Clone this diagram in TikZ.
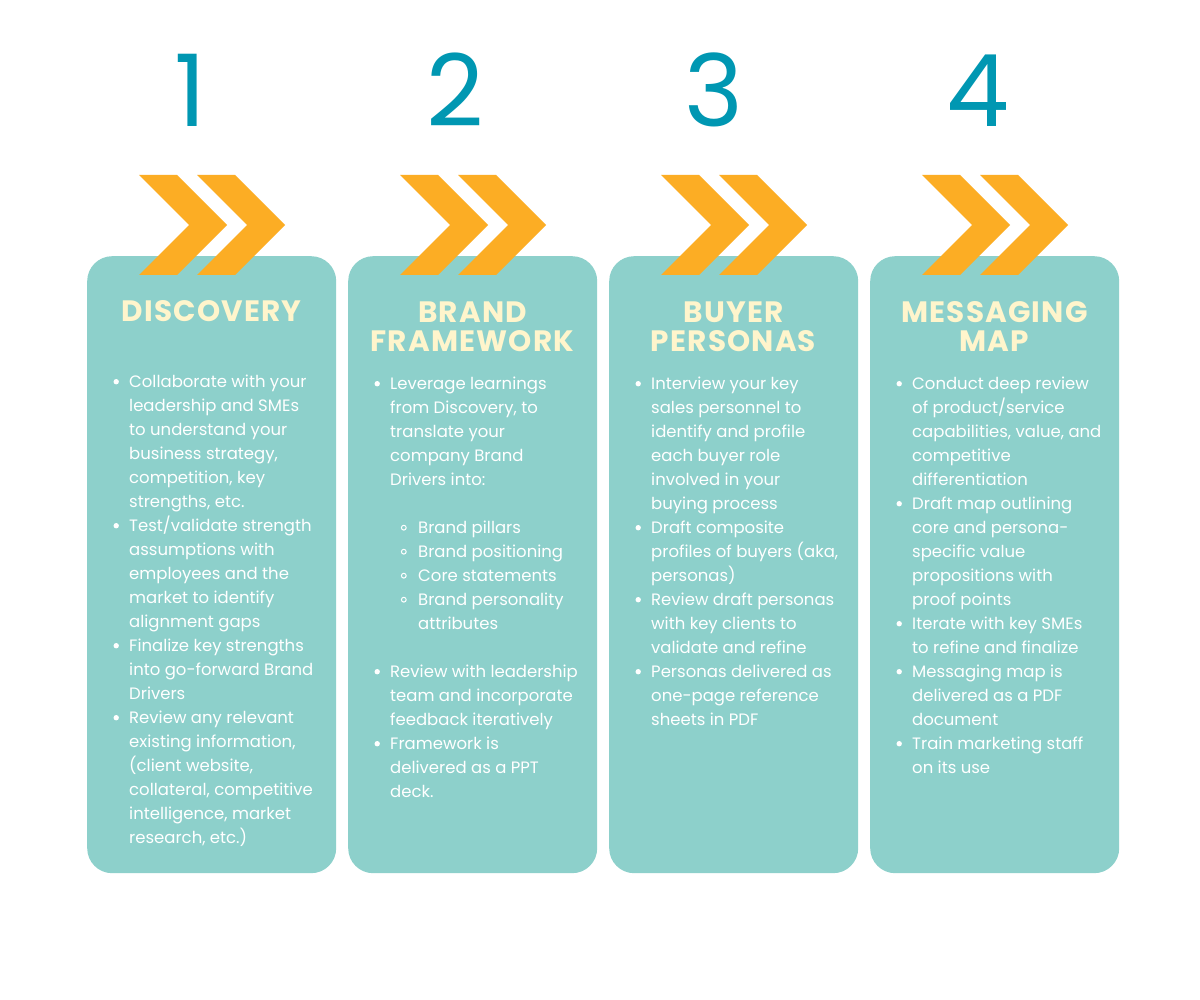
\documentclass[tikz,border=0pt]{standalone}
\usepackage{fontspec}
\setmainfont{Poppins}
\newfontfamily\titlefont{Poppins}[LetterSpace=4]
\definecolor{boxcol}{HTML}{8DD0CB}
\definecolor{chevcol}{HTML}{FCAD24}
\definecolor{numcol}{HTML}{0097B2}
\definecolor{titlecol}{HTML}{FFF5CC}
\newcommand\bl{\makebox[0pt][r]{\tikz[baseline=0pt]\fill[white] (0pt,5.5pt) circle[radius=2.7pt];\hspace{10.3pt}}}
\newcommand\sbl{\makebox[0pt][r]{\tikz[baseline=0pt]\draw[white,line width=1pt] (0pt,5.5pt) circle[radius=2.4pt];\hspace{11.5pt}}}
\newcommand\sub{\hspace*{28pt}}
\begin{document}
\begin{tikzpicture}[x=1pt,y=-1pt,
  panel/.style={fill=boxcol, draw=none, rounded corners=25pt, minimum width=249pt, minimum height=617pt, inner sep=0pt, anchor=north west},
  chev/.style={fill=chevcol},
  num/.style={text=numcol, font=\fontsize{100}{100}\selectfont, anchor=base, inner sep=0pt},
  title/.style={text=titlecol, font=\fontsize{29.5}{29}\selectfont\titlefont\bfseries, align=center, anchor=north, inner sep=0pt},
  body/.style={text=white, font=\fontsize{16.5}{24}\selectfont, align=left, anchor=north west, inner sep=0pt}]
\fill[white] (0,0) rectangle (1200,1000);
\useasboundingbox (0,0) rectangle (1200,1000);
\foreach \i/\x in {1/87,2/348,3/609,4/870}{
  \node[panel] (box\i) at (\x,256) {};
}
\foreach \x in {87,348,609,870}{
  \foreach \d in {52,110}{
    \fill[chev] (\x+\d,175) -- ++(38,0) -- ++(50,50) -- ++(-50,50) -- ++(-38,0) -- ++(50,-50) -- cycle;
  }
}
\node[num] (n1) at (190,127) {1};
\node[num] (n2) at (455,127) {2};
\node[num] (n3) at (714,127) {3};
\node[num] (n4) at (978,127) {4};

\node[title] (h1) at (211.5,299) {\rule{0pt}{22pt}DISCOVERY};
\node[title] (h2) at (472.5,300) {\rule{0pt}{22pt}BRAND\\FRAMEWORK};
\node[title] (h3) at (733.5,300) {\rule{0pt}{22pt}BUYER\\PERSONAS};
\node[title] (h4) at (994.5,300) {\rule{0pt}{22pt}MESSAGING\\MAP};

\node[body] (t1) at (129,374) {\rule{0pt}{13pt}\bl Collaborate with your\\
leadership and SMEs\\
to understand your\\
business strategy,\\
competition, key\\
strengths, etc.\\
\bl Test/validate strength\\
assumptions with\\
employees and the\\
market to identify\\
alignment gaps\\
\bl Finalize key strengths\\
into go-forward Brand\\
Drivers\\
\bl Review any relevant\\
existing information,\\
(client website,\\
collateral, competitive\\
intelligence, market\\
research, etc.)};

\node[body] (t2) at (390,376) {\rule{0pt}{13pt}\bl Leverage learnings\\
from Discovery, to\\
translate your\\
company Brand\\
Drivers into:\\[24pt]
\sub\sbl Brand pillars\\
\sub\sbl Brand positioning\\
\sub\sbl Core statements\\
\sub\sbl Brand personality\\
\sub attributes\\[24pt]
\bl Review with leadership\\
team and incorporate\\
feedback iteratively\\
\bl Framework is\\
delivered as a PPT\\
deck.};

\node[body] (t3) at (651,376) {\rule{0pt}{13pt}\bl Interview your key\\
sales personnel to\\
identify and profile\\
each buyer role\\
involved in your\\
buying process\\
\bl Draft composite\\
profiles of buyers (aka,\\
personas)\\
\bl Review draft personas\\
with key clients to\\
validate and refine\\
\bl Personas delivered as\\
one-page reference\\
sheets in PDF};

\node[body] (t4) at (912,376) {\rule{0pt}{13pt}\bl Conduct deep review\\
of product/service\\
capabilities, value, and\\
competitive\\
differentiation\\
\bl Draft map outlining\\
core and persona-\\
specific value\\
propositions with\\
proof points\\
\bl Iterate with key SMEs\\
to refine and finalize\\
\bl Messaging map is\\
delivered as a PDF\\
document\\
\bl Train marketing staff\\
on its use};
\end{tikzpicture}
\end{document}
